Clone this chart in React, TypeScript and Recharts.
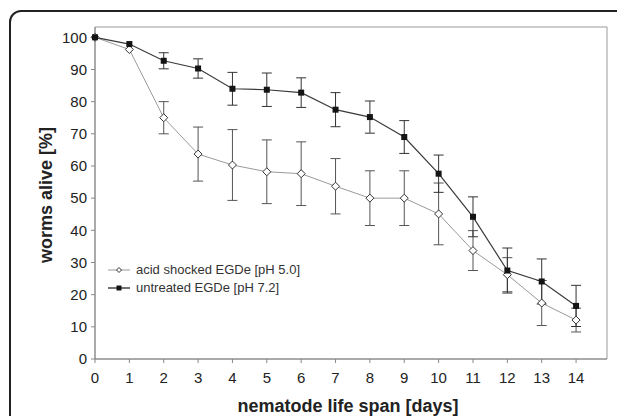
import React from "react";
import {
  ComposedChart,
  Line,
  XAxis,
  YAxis,
  ErrorBar,
  ReferenceArea,
} from "recharts";

const days = [0, 1, 2, 3, 4, 5, 6, 7, 8, 9, 10, 11, 12, 13, 14];
const acidShocked = [100, 96.2, 75.0, 63.7, 60.3, 58.2, 57.6, 53.7, 50.0, 50.0, 45.1, 33.7, 26.2, 17.4, 12.1];
const acidErr = [0, 0, 5.0, 8.4, 11.0, 9.9, 9.9, 8.6, 8.5, 8.5, 9.6, 6.2, 5.3, 7.0, 3.7];
const untreated = [100, 97.9, 92.7, 90.3, 84.0, 83.7, 82.8, 77.5, 75.2, 69.0, 57.6, 44.2, 27.5, 24.1, 16.5];
const untreatedErr = [0, 0, 2.5, 3.0, 5.1, 5.2, 4.6, 5.3, 5.0, 5.1, 5.8, 6.2, 7.0, 7.0, 6.4];
const yTicks = [0, 10, 20, 30, 40, 50, 60, 70, 80, 90, 100];

const data = days.map((d, i) => ({
  day: d,
  acid: acidShocked[i],
  acidErr: acidErr[i],
  untreated: untreated[i],
  untreatedErr: untreatedErr[i],
}));

const FONT = "'Liberation Sans', Arial, sans-serif";

const Diamond = (props: any) => {
  const { cx, cy, index } = props;
  if (cx == null || cy == null) return <g key={index} />;
  const r = 4;
  return (
    <polygon
      key={index}
      points={`${cx},${cy - r} ${cx + r},${cy} ${cx},${cy + r} ${cx - r},${cy}`}
      fill="#fff"
      stroke="#333"
      strokeWidth={1}
    />
  );
};

const Square = (props: any) => {
  const { cx, cy, index } = props;
  if (cx == null || cy == null) return <g key={index} />;
  const s = 6;
  return <rect key={index} x={cx - s / 2} y={cy - s / 2} width={s} height={s} fill="#141414" />;
};

const LegendBox = () => (
  <div style={{ fontFamily: FONT, fontSize: 13, color: "#333", lineHeight: "18px" }}>
    <div style={{ display: "flex", alignItems: "center" }}>
      <svg width={24} height={12} style={{ marginRight: 4 }}>
        <line x1={0} y1={6} x2={22} y2={6} stroke="#999" strokeWidth={1} />
        <polygon points="11,3.5 13.5,6 11,8.5 8.5,6" fill="#fff" stroke="#333" />
      </svg>
      acid shocked EGDe [pH 5.0]
    </div>
    <div style={{ display: "flex", alignItems: "center" }}>
      <svg width={24} height={12} style={{ marginRight: 4 }}>
        <line x1={0} y1={6} x2={22} y2={6} stroke="#444" strokeWidth={1.5} />
        <rect x={8.5} y={3.5} width={5} height={5} fill="#141414" />
      </svg>
      untreated EGDe [pH 7.2]
    </div>
  </div>
);

export default function App() {
  return (
    <div
      style={{
        position: "relative",
        width: 625,
        height: 416,
        margin: "-8px 0 0 -8px",
        overflow: "hidden",
        background: "#fff",
      }}
    >
      <div
        style={{
          position: "absolute",
          left: 9,
          top: 10,
          width: 650,
          height: 440,
          border: "2px solid #222",
          borderRadius: 12,
        }}
      />
      <div style={{ position: "absolute", left: 0, top: 0 }}>
        <ComposedChart
          width={625}
          height={416}
          data={data}
          margin={{ top: 27, right: 18, bottom: 27, left: 34 }}
        >
          <ReferenceArea x1={0} x2={14.9} y1={0} y2={103.2} fill="none" stroke="#999" strokeWidth={1} />
          <XAxis
            dataKey="day"
            type="number"
            domain={[0, 14.9]}
            ticks={days}
            interval={0}
            height={30}
            stroke="#888"
            tickSize={4}
            tick={{ fontSize: 15, fill: "#222", fontFamily: FONT }}
            tickMargin={9}
          />
          <YAxis
            type="number"
            domain={[0, 103.2]}
            ticks={yTicks}
            interval={0}
            width={61}
            stroke="#888"
            tickSize={4}
            tick={{ fontSize: 15, fill: "#222", fontFamily: FONT }}
            tickMargin={4}
          />
          <Line
            dataKey="acid"
            stroke="#9a9a9a"
            strokeWidth={1}
            dot={Diamond}
            activeDot={false}
            isAnimationActive={false}
          >
            <ErrorBar dataKey="acidErr" width={5} stroke="#555" strokeWidth={1} direction="y" />
          </Line>
          <Line
            dataKey="untreated"
            stroke="#3a3a3a"
            strokeWidth={1.2}
            dot={Square}
            activeDot={false}
            isAnimationActive={false}
          >
            <ErrorBar dataKey="untreatedErr" width={5} stroke="#333" strokeWidth={1} direction="y" />
          </Line>
        </ComposedChart>
      </div>
      <div style={{ position: "absolute", left: 108, top: 261 }}>
        <LegendBox />
      </div>
      <div
        style={{
          position: "absolute",
          left: 45.5,
          top: 195,
          transform: "translate(-50%, -50%) rotate(-90deg)",
          fontFamily: FONT,
          fontWeight: "bold",
          fontSize: 18,
          lineHeight: "18px",
          color: "#222",
          whiteSpace: "nowrap",
        }}
      >
        worms alive [%]
      </div>
      <div
        style={{
          position: "absolute",
          left: 348,
          top: 397,
          transform: "translateX(-50%)",
          fontFamily: FONT,
          fontWeight: "bold",
          fontSize: 18,
          lineHeight: "18px",
          color: "#222",
          whiteSpace: "nowrap",
        }}
      >
        nematode life span [days]
      </div>
    </div>
  );
}
